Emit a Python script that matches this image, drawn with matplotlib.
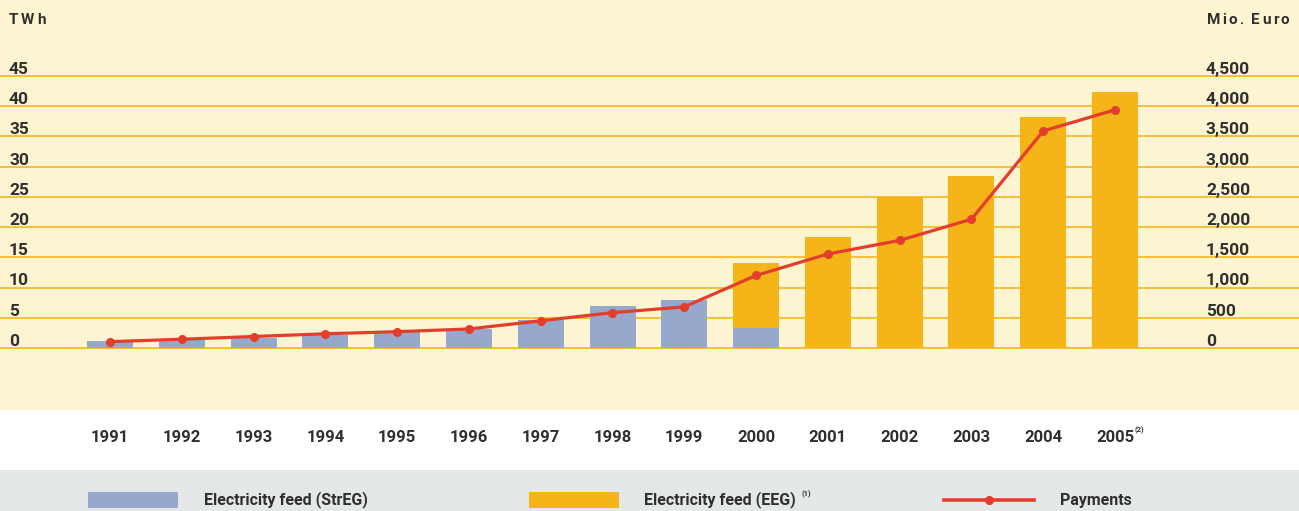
import matplotlib
matplotlib.use("Agg")
import matplotlib.pyplot as plt
from matplotlib.patches import Rectangle
from matplotlib.lines import Line2D
import matplotlib.transforms as mtransforms
import numpy as np

years = ["1991", "1992", "1993", "1994", "1995", "1996", "1997", "1998",
         "1999", "2000", "2001", "2002", "2003", "2004", "2005"]
streg_twh = [1.2, 1.3, 1.6, 2.2, 2.6, 3.2, 4.6, 7.0, 8.0, 3.3, 0, 0, 0, 0, 0]
eeg_twh = [0, 0, 0, 0, 0, 0, 0, 0, 0, 10.8, 18.4, 25.0, 28.5, 38.2, 42.4]
payments = [105, 145, 190, 235, 270, 315, 450, 585, 680, 1200, 1555, 1780, 2130, 3590, 3940]
left_ticks = [0, 5, 10, 15, 20, 25, 30, 35, 40, 45]
right_ticks = [0, 500, 1000, 1500, 2000, 2500, 3000, 3500, 4000, 4500]

CREAM = "#fdf4d1"
GRID = "#f6b61e"
BLUE = "#97a8cd"
ORANGE = "#f5b417"
RED = "#e33e2c"
TXT = "#2f2f2f"
GREY = "#e5e8e9"

plt.rcParams['font.family'] = ['Roboto', 'DejaVu Sans']

W, H = 1299, 511
fig = plt.figure(figsize=(W / 100, H / 100), dpi=100)
fig.patch.set_facecolor("white")

# grey legend band
fig.patches.append(Rectangle((0, 0), 1, (H - 470) / H, transform=fig.transFigure,
                             facecolor=GREY, edgecolor="none", zorder=0))

ax = fig.add_axes([0, 1 - 410 / H, 1, 410 / H])
ax.set_facecolor(CREAM)
for s in ax.spines.values():
    s.set_visible(False)

px_per_unit = (348 - 76) / 45.0
ylo = -(410 - 348) / px_per_unit
yhi = 45 + 76 / px_per_unit
ax.set_ylim(ylo, yhi)
spacing = (1115 - 110) / 14.0
xlo = -110 / spacing
xhi = (W - 110) / spacing
ax.set_xlim(xlo, xhi)
ax.set_xticks([])
ax.set_yticks([])

x = np.arange(len(years))
for v in left_ticks:
    ax.axhline(v, color=GRID, lw=1.2, zorder=1)

bw = 46 / spacing
ax.bar(x, streg_twh, width=bw, color=BLUE, zorder=2, linewidth=0)
ax.bar(x, eeg_twh, width=bw, bottom=streg_twh, color=ORANGE, zorder=2, linewidth=0)

ax2 = ax.twinx()
ax2.set_ylim(ylo * 100, yhi * 100)
ax2.set_xlim(xlo, xhi)
for s in ax2.spines.values():
    s.set_visible(False)
ax2.set_yticks([])
ax2.plot(x, payments, color=RED, lw=2.3, marker="o", markersize=5.5, zorder=3,
         solid_capstyle="round")

# left tick labels
trans_l = mtransforms.blended_transform_factory(ax.transAxes, ax.transData)
for v in left_ticks:
    ax.annotate(str(v), xy=(9 / W, v), xycoords=trans_l, xytext=(0, 1.5),
                textcoords="offset points", ha="left", va="baseline",
                fontsize=12.5, fontweight="bold", color=TXT)
# right tick labels
trans_r = mtransforms.blended_transform_factory(ax2.transAxes, ax2.transData)
for v in right_ticks:
    ax2.annotate(f"{v:,}", xy=(1206 / W, v), xycoords=trans_r, xytext=(0, 1.5),
                 textcoords="offset points", ha="left", va="baseline",
                 fontsize=12.5, fontweight="bold", color=TXT)

# letter-spaced headers
def spaced(txt, x0, y0, gap):
    r = fig.canvas.get_renderer()
    xp = x0
    for ch in txt:
        t = fig.text(xp / W, 1 - y0 / H, ch, ha="left", va="center", fontsize=11,
                     fontweight="bold", color=TXT)
        wpx = t.get_window_extent(renderer=r).width
        if ch == " ":
            wpx = 3
        xp += wpx + gap

spaced("TWh", 9, 20, 2.5)
spaced("Mio. Euro", 1207, 20, 2.2)

# year labels
trans_y = mtransforms.blended_transform_factory(ax.transData, fig.transFigure)
for i, yl in enumerate(years):
    ax.text(i, 1 - 438 / H, yl, transform=trans_y, ha="center", va="center",
            fontsize=12, fontweight="bold", color=TXT, clip_on=False)
ax.annotate("(2)", xy=(len(years) - 1, 1 - 438 / H), xycoords=trans_y,
            xytext=(14, 3), textcoords="offset points", ha="left", va="bottom",
            fontsize=5.5, fontweight="bold", color=TXT, annotation_clip=False)

# legend
ly = 1 - 500 / H
fig.patches.append(Rectangle((88 / W, 1 - 508 / H), 90 / W, 16 / H, transform=fig.transFigure,
                             facecolor=BLUE, edgecolor="none"))
fig.text(204 / W, ly, "Electricity feed (StrEG)", ha="left", va="center",
         fontsize=11.5, fontweight="bold", color=TXT)
fig.patches.append(Rectangle((529 / W, 1 - 508 / H), 90 / W, 16 / H, transform=fig.transFigure,
                             facecolor=ORANGE, edgecolor="none"))
fig.text(644 / W, ly, "Electricity feed (EEG)", ha="left", va="center",
         fontsize=11.5, fontweight="bold", color=TXT)
fig.text(801 / W, 1 - 494 / H, "(1)", ha="left", va="center",
         fontsize=5.5, fontweight="bold", color=TXT)
fig.lines.append(Line2D([944 / W, 1034 / W], [ly, ly], transform=fig.transFigure,
                        color=RED, lw=2.6))
fig.lines.append(Line2D([989 / W], [ly], transform=fig.transFigure, color=RED,
                        marker="o", markersize=5.5, lw=0))
fig.text(1060 / W, ly, "Payments", ha="left", va="center",
         fontsize=11.5, fontweight="bold", color=TXT)

fig.savefig("out.png", dpi=100, facecolor=fig.get_facecolor())
